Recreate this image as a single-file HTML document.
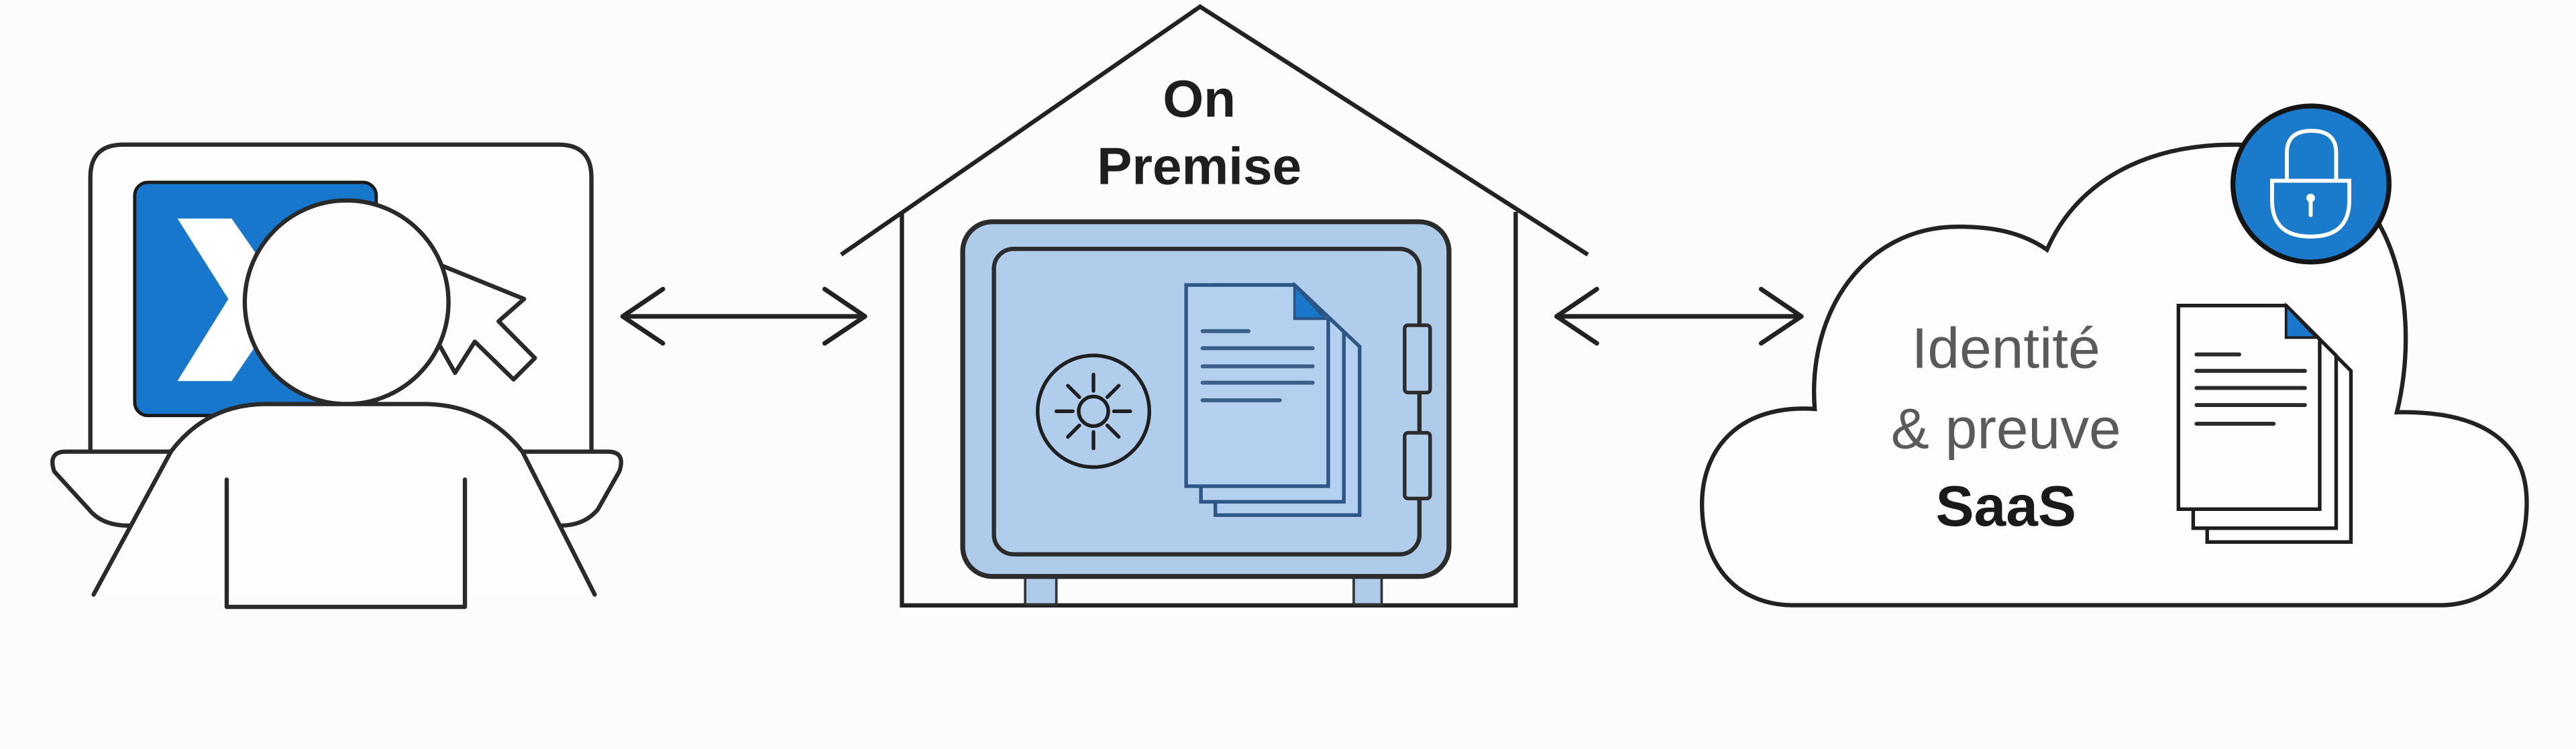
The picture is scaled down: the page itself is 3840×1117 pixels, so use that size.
<!DOCTYPE html>
<html><head><meta charset="utf-8"><style>
html,body{margin:0;padding:0;background:#fcfcfd;}
svg{display:block;}
</style></head><body>
<svg width="3840" height="1117" viewBox="0 0 1568 456" xmlns="http://www.w3.org/2000/svg" font-family="Liberation Sans, sans-serif">
<rect width="1568" height="456" fill="#fcfcfd"/>
<g fill="none" stroke="#2a2a2a" stroke-width="2.6" stroke-linejoin="round" stroke-linecap="round">
<path d="M55,275 V108 Q55,88 75,88 H340 Q360,88 360,108 V275" fill="#fdfdfd"/>
<path d="M40,275 H370 Q381,275 377,287 L364,310 Q356,320 341,320 L78,320 Q62,320 54,310 L33,287 Q29,275 40,275 Z" fill="#fdfdfd"/>
<rect x="82" y="111" width="147" height="142" rx="8" fill="#1777cc" stroke="#1a1a1a" stroke-width="2"/>
</g>
<polygon points="108,133 141,133 175,182 141,232 108,232 139,182" fill="#fff"/>
<g fill="#fdfdfd" stroke="#2a2a2a" stroke-width="2.6" stroke-linejoin="round" stroke-linecap="round">
<polygon points="245,152 319,182 303.5,195.6 325.6,218 312.6,231 289,208 277,227 245,170"/>
<circle cx="211" cy="184" r="62"/>
<path d="M57,362 L104,275 Q125,247 160,246 H260 Q296,247 318,275 L362,362"/>
<path d="M138,292 V369.5 H283 V292" fill="none"/>
</g>
<g fill="none" stroke="#222" stroke-width="2.8" stroke-linecap="round" stroke-linejoin="round">
<line x1="380" y1="192.6" x2="526" y2="192.6"/>
<polyline points="403.5,176 379,192.6 403.5,209"/>
<polyline points="502,176 526.5,192.6 502,209"/>
<line x1="948" y1="192.6" x2="1096" y2="192.6"/>
<polyline points="972,176 947.5,192.6 972,209"/>
<polyline points="1072,176 1096.5,192.6 1072,209"/>
</g>
<g fill="none" stroke="#222" stroke-width="2.6" stroke-linejoin="miter">
<polyline points="512,155 730.5,4 966.5,155"/>
<polyline points="549,129 549,368.6 922.6,368.6 922.6,129"/>
</g>
<text x="730" y="71" font-size="32" font-weight="bold" text-anchor="middle" fill="#1e1e1e">On</text>
<text x="730" y="112" font-size="32" font-weight="bold" text-anchor="middle" fill="#1e1e1e">Premise</text>
<rect x="624" y="350" width="19" height="18" fill="#aecbea" stroke="#333" stroke-width="1.5"/>
<rect x="824" y="350" width="17" height="18" fill="#aecbea" stroke="#333" stroke-width="1.5"/>
<rect x="586" y="135" width="296" height="216" rx="18" fill="#aecbea" stroke="#2c2c2c" stroke-width="3"/>
<rect x="605" y="151.5" width="259" height="186" rx="12" fill="#b0cdec" stroke="#2c2c2c" stroke-width="2.6"/>
<rect x="855" y="198" width="15.5" height="41" rx="2" fill="#b0cdec" stroke="#2c2c2c" stroke-width="2.2"/>
<rect x="855" y="263.5" width="15.5" height="40" rx="2" fill="#b0cdec" stroke="#2c2c2c" stroke-width="2.2"/>
<g stroke="#1f1f1f" stroke-width="2.2" fill="none" stroke-linecap="round">
<circle cx="665.6" cy="250.4" r="34"/>
<circle cx="665.6" cy="250.4" r="9"/>
<line x1="665.6" y1="228" x2="665.6" y2="238"/><line x1="665.6" y1="263" x2="665.6" y2="273"/>
<line x1="643" y1="250.4" x2="653" y2="250.4"/><line x1="678" y1="250.4" x2="688" y2="250.4"/>
<line x1="650" y1="234.8" x2="657" y2="241.8"/><line x1="674" y1="259" x2="681" y2="266"/>
<line x1="681" y1="234.8" x2="674" y2="241.8"/><line x1="657" y1="259" x2="650" y2="266"/>
</g>
<g fill="#b3d0ef" stroke="#2d5585" stroke-width="2.2" stroke-linejoin="miter">
<polygon points="739.8,173.5 788,173.5 827.6,211 827.6,313.6 739.8,313.6"/>
<polygon points="731,173.5 788,173.5 818,202 818,305.5 731,305.5"/>
<polygon points="722,173.5 788,173.5 808.5,193 808.5,296 722,296"/>
<polygon points="788,173.5 806.6,194 788,194" fill="#1a78cc" stroke-width="1.6"/>
</g>
<g stroke="#3b5f88" stroke-width="2.4" stroke-linecap="round">
<line x1="732" y1="201.6" x2="760" y2="201.6"/>
<line x1="732" y1="212" x2="799" y2="212"/>
<line x1="732" y1="223" x2="799" y2="223"/>
<line x1="732" y1="233" x2="799" y2="233"/>
<line x1="732" y1="243.7" x2="779" y2="243.7"/>
</g>
<path d="M1104.6,249 C1060,246 1036,272 1036,307 C1036,345 1058,368.5 1092,368.5 L1485,368.5 C1520,368.5 1538,342 1538,306 C1538,270 1512,250 1459,251 C1476,180 1455,88 1360,88 C1300,88 1262,115 1246,152 C1230,141 1212,138 1192,138 C1135,138 1100,190 1104.6,249 Z" fill="#fdfdfd" stroke="#222" stroke-width="2.6"/>
<circle cx="1406.7" cy="112" r="47.5" fill="#1a7acb" stroke="#151515" stroke-width="3"/>
<g fill="none" stroke="#fff" stroke-width="2.4" stroke-linecap="round">
<path d="M1392,110 V93 Q1392,79.6 1407,79.6 Q1422,79.6 1422,93 V110"/>
<path d="M1383,110 H1430 V122 Q1430,144 1406.5,144 Q1383,144 1383,122 Z"/>
<line x1="1406.5" y1="121" x2="1406.5" y2="131"/>
</g>
<circle cx="1406.5" cy="120.5" r="2.6" fill="#fff"/>
<text x="1221" y="224" font-size="35" text-anchor="middle" fill="#5a5a5a">Identité</text>
<text x="1221" y="273" font-size="35" text-anchor="middle" fill="#5a5a5a">&amp; preuve</text>
<text x="1221" y="320" font-size="35" font-weight="bold" text-anchor="middle" fill="#1a1a1a">SaaS</text>
<g fill="#fdfdfd" stroke="#1e1e1e" stroke-width="2.2" stroke-linejoin="miter">
<polygon points="1343.5,186 1391.5,186 1431,225.8 1431,330 1343.5,330"/>
<polygon points="1335,186 1391.5,186 1422,216.5 1422,321.6 1335,321.6"/>
<polygon points="1326,186 1391.5,186 1412,206.5 1412,310 1326,310"/>
<polygon points="1391.5,186 1410,205.5 1391.5,205.5" fill="#1a78cc" stroke-width="1.6"/>
</g>
<g stroke="#2a2a2a" stroke-width="2.4" stroke-linecap="round">
<line x1="1337" y1="215.8" x2="1363" y2="215.8"/>
<line x1="1337" y1="225.8" x2="1403" y2="225.8"/>
<line x1="1337" y1="236.2" x2="1403" y2="236.2"/>
<line x1="1337" y1="246.6" x2="1403" y2="246.6"/>
<line x1="1337" y1="258" x2="1384" y2="258"/>
</g>
</svg>
</body></html>
